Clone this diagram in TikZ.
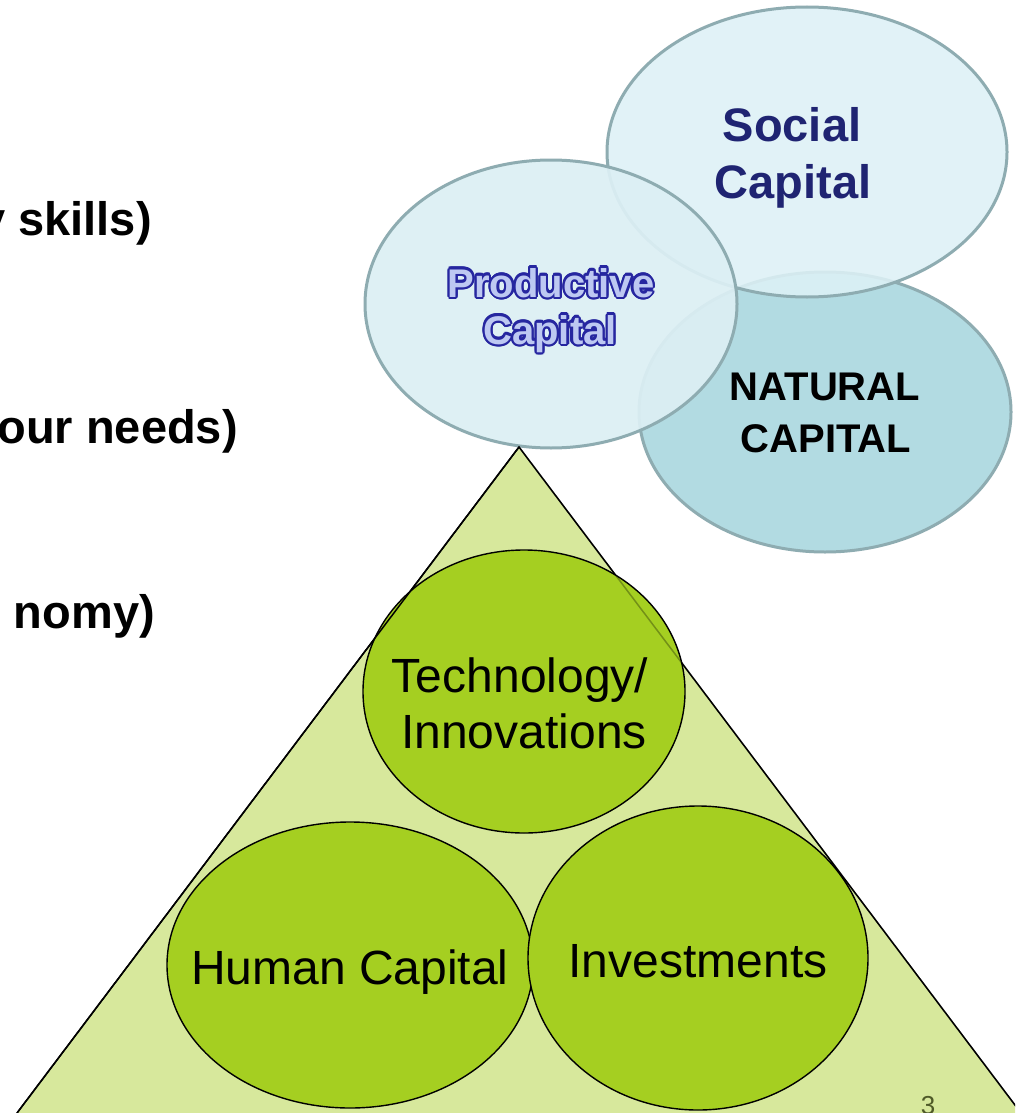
\documentclass[tikz,border=0pt]{standalone}
\usepackage{fontspec}
\setmainfont{Liberation Sans}
\usepackage{contour}
\contourlength{2.2pt}
\usetikzlibrary{shapes.geometric}
\definecolor{capedge}{HTML}{8EACB1}
\definecolor{socfill}{HTML}{DDF1F6}
\definecolor{profill}{HTML}{DCEFF4}
\definecolor{natfill}{HTML}{B2DBE2}
\definecolor{navy}{HTML}{1F2472}
\definecolor{outblue}{HTML}{2626A0}
\definecolor{inblue}{HTML}{BDC8F2}
\definecolor{trifill}{HTML}{D7E89C}
\definecolor{leaf}{HTML}{A5CF21}
\definecolor{pgnum}{HTML}{4F5A28}
\tikzset{
  capell/.style={ellipse, draw=capedge, line width=3pt, inner sep=0pt},
  greenell/.style={ellipse, draw=black, line width=1.4pt, fill=leaf, inner sep=0pt},
  triedge/.style={line width=1.5pt, line join=miter},
  lbl/.style={font=\fontsize{48}{56}\selectfont, anchor=base, inner sep=0pt},
  lefttxt/.style={font=\fontsize{47}{56}\selectfont\bfseries, anchor=base east, inner sep=0pt},
  soctxt/.style={font=\fontsize{47}{56}\selectfont\bfseries, text=navy, anchor=base, inner sep=0pt},
  nattxt/.style={font=\fontsize{40}{48}\selectfont\bfseries, text=black, anchor=base, inner sep=0pt},
  protxt/.style={font=\fontsize{40}{48}\selectfont\bfseries, anchor=base, inner sep=0pt},
}
\newcommand{\protext}[1]{\contour{outblue}{\textcolor{inblue}{#1}}}
\begin{document}
\begin{tikzpicture}[x=1pt,y=-1pt]
\useasboundingbox (0,0) rectangle (1015,1113);
\clip (0,0) rectangle (1015,1113);
\fill[white] (0,0) rectangle (1015,1113);

% left partial texts
\node[lefttxt] (t1) at (152,235) {y skills)};
\node[lefttxt] (t2) at (238,443) {our needs)};
\node[lefttxt] (t3) at (155,628) {nomy)};

% capital ellipses
\node[capell, fill=natfill, minimum width=372pt, minimum height=280pt] (nat) at (825,412) {};
\node[capell, fill=socfill, fill opacity=0.88, minimum width=400pt, minimum height=290pt] (soc) at (807,152) {};
\node[capell, fill=profill, fill opacity=0.93, minimum width=372pt, minimum height=288pt] (pro) at (551,304) {};

\node[soctxt] (soc1) at (792,142) {Social};
\node[soctxt] (soc2) at (793,198) {Capital};
\node[nattxt] (nat1) at (825,400) {NATURAL};
\node[nattxt] (nat2) at (826,452) {CAPITAL};
\node[protxt] (pro1) at (551,297) {\protext{Productive}};
\node[protxt] (pro2) at (550,344) {\protext{Capital}};

% triangle
\coordinate (apex) at (519,447);
\coordinate (bl) at (17,1113);
\coordinate (br) at (1021,1113);
\fill[trifill] (apex) -- (bl) -- (br) -- cycle;
\draw[triedge] (bl) -- (apex) -- (br);

% green circles
\node[greenell, minimum width=366pt, minimum height=286pt] (hum) at (350,965) {};
\node[greenell, minimum width=340pt, minimum height=304pt] (inv) at (698,958) {};
\node[greenell, minimum width=322pt, minimum height=283pt] (tech) at (524,691.5) {};

% triangle edges seen over the top circle
\draw[triedge] (bl) -- (apex);
\draw[triedge, draw opacity=0.3] (apex) -- (br);

\node[lbl] (tech1) at (520,692) {Technology/};
\node[lbl] (tech2) at (524,748) {Innovations};
\node[lbl] (hum1) at (350,984) {Human Capital};
\node[lbl] (inv1) at (698,977) {Investments};

\node[font=\fontsize{26}{30}\selectfont, text=pgnum, anchor=north, inner sep=0pt] (pg) at (928,1096) {3};
\end{tikzpicture}
\end{document}
